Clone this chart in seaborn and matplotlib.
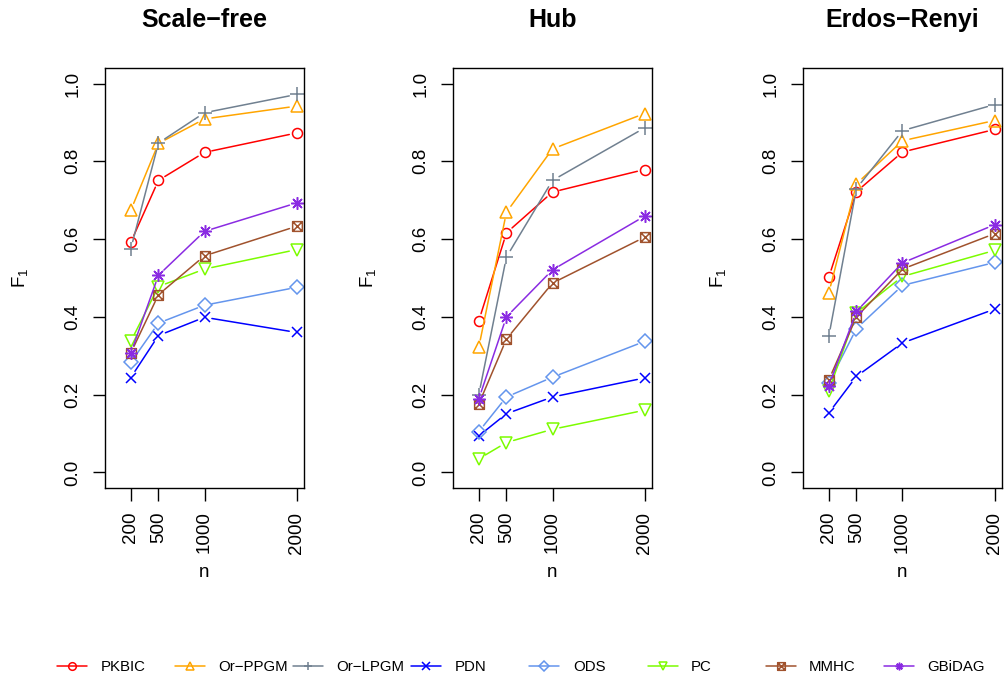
import numpy as np
import pandas as pd
import matplotlib
matplotlib.use("Agg")
import matplotlib.pyplot as plt
import seaborn as sns
from matplotlib.lines import Line2D
from matplotlib.path import Path

# --- Data (F1) ---
n_values = [200, 500, 1000, 2000]
methods = ["PKBIC", "Or\u2212PPGM", "Or\u2212LPGM", "PDN", "ODS", "PC", "MMHC", "GBiDAG"]
panel_titles = ["Scale\u2212free", "Hub", "Erdos\u2212Renyi"]

scale_free = {
    "PKBIC": [0.592, 0.751, 0.823, 0.873],
    "Or\u2212PPGM": [0.674, 0.846, 0.909, 0.942],
    "Or\u2212LPGM": [0.575, 0.847, 0.925, 0.972],
    "PDN": [0.244, 0.352, 0.399, 0.360],
    "ODS": [0.283, 0.384, 0.430, 0.476],
    "PC": [0.337, 0.478, 0.523, 0.573],
    "MMHC": [0.307, 0.457, 0.557, 0.633],
    "GBiDAG": [0.307, 0.507, 0.620, 0.693],
}
hub = {
    "PKBIC": [0.390, 0.616, 0.721, 0.779],
    "Or\u2212PPGM": [0.322, 0.669, 0.832, 0.923],
    "Or\u2212LPGM": [0.200, 0.554, 0.751, 0.886],
    "PDN": [0.094, 0.151, 0.194, 0.243],
    "ODS": [0.105, 0.194, 0.245, 0.337],
    "PC": [0.035, 0.077, 0.111, 0.160],
    "MMHC": [0.176, 0.343, 0.487, 0.605],
    "GBiDAG": [0.189, 0.400, 0.521, 0.659],
}
erdos_renyi = {
    "PKBIC": [0.502, 0.722, 0.824, 0.882],
    "Or\u2212PPGM": [0.461, 0.742, 0.853, 0.905],
    "Or\u2212LPGM": [0.350, 0.730, 0.879, 0.946],
    "PDN": [0.153, 0.247, 0.333, 0.420],
    "ODS": [0.230, 0.370, 0.481, 0.540],
    "PC": [0.210, 0.410, 0.504, 0.571],
    "MMHC": [0.238, 0.400, 0.523, 0.614],
    "GBiDAG": [0.223, 0.414, 0.539, 0.637],
}

# --- Styles ---
colors = ["#FF0000", "#FFA500", "#708090", "#0000FF", "#6495ED", "#7CFC00", "#A0522D", "#8A2BE2"]

box_x = Path([(-1, -1), (1, -1), (1, 1), (-1, 1), (-1, -1), (-1, -1), (1, 1), (-1, 1), (1, -1)],
             [Path.MOVETO, Path.LINETO, Path.LINETO, Path.LINETO, Path.CLOSEPOLY,
              Path.MOVETO, Path.LINETO, Path.MOVETO, Path.LINETO])
markers = ["o", "^", "+", "x", "D", "v", box_x, (8, 2, 0)]
marker_sizes = [7.2, 8.2, 9.5, 7.2, 7.2, 8.2, 7.0, 9.0]

records = []
for title, panel in zip(panel_titles, [scale_free, hub, erdos_renyi]):
    for m in methods:
        for n, f1 in zip(n_values, panel[m]):
            records.append({"panel": title, "method": m, "n": n, "F1": f1})
df = pd.DataFrame(records)

sns.set_style("ticks")
plt.rcParams["font.family"] = ["Liberation Sans", "DejaVu Sans"]
plt.rcParams["mathtext.default"] = "regular"
plt.rcParams["axes.edgecolor"] = "black"
plt.rcParams["axes.linewidth"] = 1.0
plt.rcParams["text.color"] = "black"
plt.rcParams["axes.labelcolor"] = "black"
plt.rcParams["xtick.color"] = "black"
plt.rcParams["ytick.color"] = "black"


def gapped_line(ax, xs, ys, gap_px, **kw):
    """Draw segments like R's type='b' (gap around each point)."""
    pts = ax.transData.transform(np.column_stack([xs, ys]))
    inv = ax.transData.inverted()
    px, py = [], []
    for p0, p1 in zip(pts[:-1], pts[1:]):
        d = p1 - p0
        length = np.hypot(*d)
        if length <= 2 * gap_px:
            continue
        u = d / length
        a = inv.transform(p0 + u * gap_px)
        b = inv.transform(p1 - u * gap_px)
        px += [a[0], b[0], np.nan]
        py += [a[1], b[1], np.nan]
    ax.plot(px, py, **kw)


fig = plt.figure(figsize=(10.07, 6.79), dpi=100)
W, H = 1007, 679
lefts = [105, 453, 803]

for i, title in enumerate(panel_titles):
    ax = fig.add_axes([lefts[i] / W, 191 / H, 199 / W, 420 / H])
    ax.set_xlim(-80, 2080)
    ax.set_ylim(-0.04, 1.04)
    sub = df[df["panel"] == title]
    for m, c, mk, ms in zip(methods, colors, markers, marker_sizes):
        d = sub[sub["method"] == m]
        gapped_line(ax, d["n"].values, d["F1"].values, 7.5, color=c, lw=1.1)
        sns.lineplot(data=d, x="n", y="F1", ax=ax, color=c, marker=mk, linestyle="none",
                     markersize=ms, markerfacecolor="none", markeredgecolor=c,
                     markeredgewidth=1.1)

    for side in ["top", "right", "left", "bottom"]:
        ax.spines[side].set_visible(True)
        ax.spines[side].set_linewidth(1.0)
        ax.spines[side].set_color("black")
    ax.set_xticks(n_values)
    ax.set_xticklabels([str(v) for v in n_values], rotation=90)
    ax.set_yticks([0.0, 0.2, 0.4, 0.6, 0.8, 1.0])
    ax.set_yticklabels(["0.0", "0.2", "0.4", "0.6", "0.8", "1.0"], rotation=90)
    for lab in ax.get_yticklabels():
        lab.set_va("center")
    ax.tick_params(direction="out", length=9, width=1.0, labelsize=13.5, pad=8,
                   color="black", labelcolor="black")
    ax.set_xlabel("n", fontsize=13.5, color="black")
    ax.set_ylabel("F$_1$", fontsize=13.5, color="black")
    ax.xaxis.set_label_coords(0.5, -0.18)
    ax.yaxis.set_label_coords(-0.375, 0.5)
    ax.set_title(title, fontsize=18, fontweight="bold", pad=29.5, color="black")
    ax.grid(False)

# --- Legend: one entry per fixed-width slot, like R's horiz legend ---
for k, (m, c, mk) in enumerate(zip(methods, colors, markers)):
    h = Line2D([0], [0], color=c, lw=1.1, marker=mk, markersize=5.5,
               markerfacecolor="none", markeredgecolor=c, markeredgewidth=1.1)
    fig.legend(handles=[h], labels=[m], loc="center left",
               bbox_to_anchor=((57 + 118.1 * k) / W, 1 - 667 / H),
               frameon=False, fontsize=10.8, handlelength=2.0, handletextpad=0.9,
               borderpad=0, borderaxespad=0, labelcolor="black")

fig.savefig("out.png", dpi=100)
